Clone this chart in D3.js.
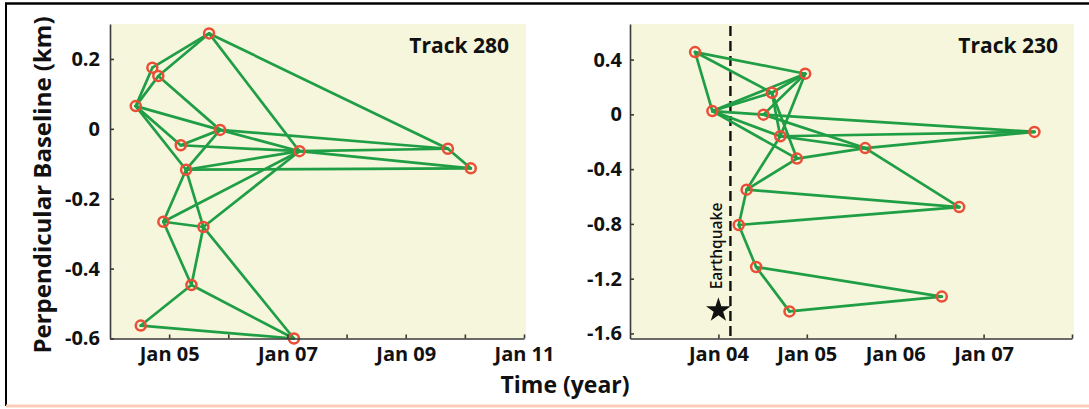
<!DOCTYPE html>
<html><head><meta charset="utf-8">
<script src="https://cdn.jsdelivr.net/npm/d3@7"></script>
<style>body{margin:0;background:#fff;} svg{display:block;}</style>
</head><body><svg id="c" width="1089" height="409"></svg>
<script>
// ---- Track 280 (left panel) ----
const leftDates = [2005.675, 2004.716, 2004.817, 2004.435, 2005.861, 2005.196, 2007.203, 2009.713, 2010.10, 2005.286, 2004.902, 2005.579, 2005.377, 2004.52, 2007.11];
const leftBaselines = [0.273, 0.175, 0.151, 0.065, -0.003, -0.047, -0.064, -0.057, -0.113, -0.117, -0.266, -0.281, -0.447, -0.563, -0.600];
const leftPairs = [[0,1],[0,2],[0,6],[0,7],[1,3],[2,3],[2,4],[3,4],[3,5],[3,9],[4,5],[4,9],[4,6],[4,7],[5,6],[6,9],[6,7],[6,8],[7,8],[9,8],[9,10],[9,11],[10,6],[11,6],[10,11],[10,12],[11,12],[11,14],[12,13],[12,14],[13,14]];
const leftXTicks = [2005, 2006, 2007, 2008, 2009, 2010, 2011];
const leftXLabels = ["Jan 05", "", "Jan 07", "", "Jan 09", "", "Jan 11"];
const leftYTicks = [0.2, 0, -0.2, -0.4, -0.6];
const leftYLabels = ["0.2", "0", "-0.2", "-0.4", "-0.6"];

// ---- Track 230 (right panel) ----
const rightDates = [2003.736, 2004.982, 2004.605, 2003.932, 2004.51, 2004.70, 2005.661, 2004.888, 2007.575, 2004.319, 2006.724, 2004.23, 2004.427, 2006.527, 2004.804];
const rightBaselines = [0.455, 0.297, 0.158, 0.024, -0.002, -0.16, -0.246, -0.323, -0.128, -0.55, -0.677, -0.808, -1.115, -1.331, -1.439];
const rightPairs = [[0,1],[0,2],[0,3],[3,1],[3,2],[3,4],[3,5],[3,7],[1,2],[1,4],[1,5],[2,5],[2,7],[4,8],[4,6],[5,8],[5,6],[7,6],[6,8],[6,10],[5,9],[7,9],[9,10],[9,11],[11,10],[11,12],[12,13],[12,14],[14,13]];
const rightXTicks = [2004, 2005, 2006, 2007, 2008];
const rightXLabels = ["Jan 04", "Jan 05", "Jan 06", "Jan 07", ""];
const rightYTicks = [0.4, 0, -0.4, -0.8, -1.2, -1.6];
const rightYLabels = ["0.4", "0", "-0.4", "-0.8", "-1.2", "-1.6"];

const quakeDate = 2004.136;
const quakeStar = [2004.0, -1.43];

const FONT = "'Open Sans', 'DejaVu Sans', sans-serif";
const svg = d3.select("#c");

// frame
svg.append("line").attr("x1",5).attr("x2",1089).attr("y1",3.5).attr("y2",3.5).attr("stroke","#000").attr("stroke-width",2.5);
svg.append("line").attr("x1",6).attr("x2",6).attr("y1",3).attr("y2",406).attr("stroke","#000").attr("stroke-width",2);
svg.append("line").attr("x1",6).attr("x2",1089).attr("y1",406).attr("y2",406).attr("stroke","#fbcdb8").attr("stroke-width",3);

function panel(cfg){
  const x = d3.scaleLinear().domain(cfg.xDom).range(cfg.xRange);
  const y = d3.scaleLinear().domain(cfg.yDom).range([338.5, 24]);
  const g = svg.append("g");
  g.append("rect").attr("x", cfg.xRange[0]).attr("y", 24)
    .attr("width", cfg.xRange[1]-cfg.xRange[0]+2).attr("height", 314.5)
    .attr("fill", "#f5f6db");
  if (cfg.extra) cfg.extra(g, x, y);
  // edges
  g.append("g").selectAll("line").data(cfg.pairs).join("line")
    .attr("x1", d => x(cfg.dates[d[0]])).attr("y1", d => y(cfg.vals[d[0]]))
    .attr("x2", d => x(cfg.dates[d[1]])).attr("y2", d => y(cfg.vals[d[1]]))
    .attr("stroke", "#1f9e45").attr("stroke-width", 2.7).attr("stroke-linecap","round");
  // acquisitions
  g.append("g").selectAll("circle").data(cfg.dates).join("circle")
    .attr("cx", d => x(d)).attr("cy", (d,i) => y(cfg.vals[i])).attr("r", 5)
    .attr("fill", "none").attr("stroke", "#ea4e36").attr("stroke-width", 2.5);
  // axes
  const xa = d3.axisBottom(x).tickValues(cfg.xTicks)
    .tickFormat((d,i) => cfg.xLabels[i]).tickSizeInner(-4).tickSizeOuter(0).tickPadding(8);
  const ya = d3.axisLeft(y).tickValues(cfg.yTicks)
    .tickFormat((d,i) => cfg.yLabels[i]).tickSizeInner(-4).tickSizeOuter(0).tickPadding(cfg.yPad);
  const gx = g.append("g").attr("transform","translate(0,338.5)").call(xa);
  const gy = g.append("g").attr("transform",`translate(${cfg.xRange[0]},0)`).call(ya);
  [gx, gy].forEach(a => {
    a.select(".domain").attr("stroke","#3a3a3a").attr("stroke-width",1.6);
    a.selectAll(".tick line").attr("stroke","#3a3a3a").attr("stroke-width",1.6);
    a.selectAll("text").attr("fill","#111").style("font-family",FONT).style("font-weight","700").style("font-size","20px");
  });
  g.append("text").attr("x", cfg.titleX).attr("y", 53).attr("text-anchor","end")
    .style("font-family",FONT).style("font-weight","700").style("font-size","21px").attr("fill","#111")
    .text(cfg.title);
}

panel({xDom:[2004,2011], xRange:[110,524], yDom:[-0.6,0.3], dates:leftDates, vals:leftBaselines, pairs:leftPairs,
  xTicks:leftXTicks, xLabels:leftXLabels, yTicks:leftYTicks, yLabels:leftYLabels, yPad:10, title:"Track 280", titleX:509});

panel({xDom:[2003,2008], xRange:[630,1072], yDom:[-1.637,0.66], dates:rightDates, vals:rightBaselines, pairs:rightPairs,
  xTicks:rightXTicks, xLabels:rightXLabels, yTicks:rightYTicks, yLabels:rightYLabels, yPad:8, title:"Track 230", titleX:1058,
  extra:(g, x, y) => {
    g.append("line").attr("x1", x(quakeDate)).attr("x2", x(quakeDate)).attr("y1", 26).attr("y2", 338)
      .attr("stroke","#111").attr("stroke-width",2.4).attr("stroke-dasharray","10,5");
    g.append("path").attr("d", d3.symbol(d3.symbolStar, 190)())
      .attr("transform", `translate(${x(quakeStar[0])},${y(quakeStar[1])})`).attr("fill","#111");
    g.append("text").attr("transform", `translate(${x(quakeDate)-8},246) rotate(-90)`)
      .attr("text-anchor","middle").style("font-family",FONT).style("font-weight","600").style("font-size","15.5px")
      .attr("fill","#111").text("Earthquake");
  }});

// axis titles
svg.append("text").attr("transform","translate(51,185) rotate(-90)").attr("text-anchor","middle")
  .style("font-family",FONT).style("font-weight","700").style("font-size","24px").attr("fill","#111")
  .text("Perpendicular Baseline (km)");
svg.append("text").attr("x",565).attr("y",393).attr("text-anchor","middle")
  .style("font-family",FONT).style("font-weight","700").style("font-size","23px").attr("fill","#111")
  .text("Time (year)");
</script></body></html>
